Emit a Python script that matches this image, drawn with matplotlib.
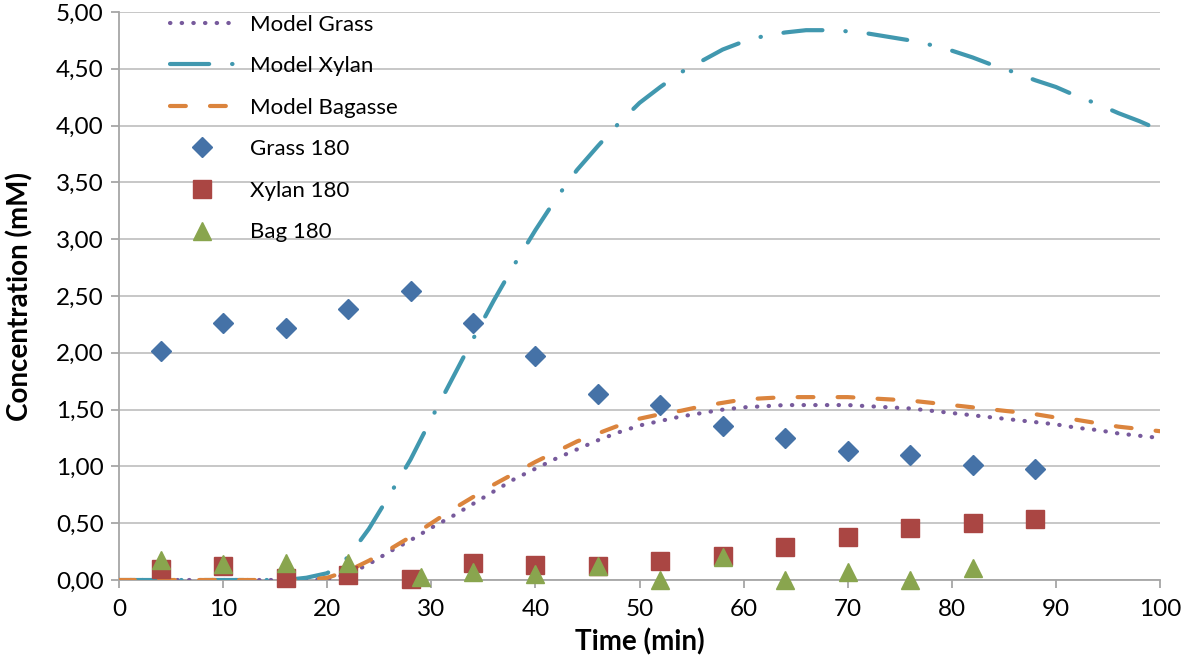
import matplotlib
matplotlib.use("Agg")
import matplotlib.pyplot as plt
from matplotlib.ticker import FuncFormatter, MultipleLocator

plt.rcParams['font.family'] = ['Lato', 'DejaVu Sans']

# measured points (180)
t_meas = [4, 10, 16, 22, 28, 34, 40, 46, 52, 58, 64, 70, 76, 82, 88]
grass_180 = [2.02, 2.26, 2.22, 2.39, 2.54, 2.26, 1.97, 1.64, 1.54, 1.36, 1.25, 1.14, 1.10, 1.01, 0.98]
xylan_180 = [0.10, 0.12, 0.02, 0.04, 0.01, 0.15, 0.13, 0.12, 0.17, 0.21, 0.29, 0.38, 0.46, 0.50, 0.54]
t_bag = [4, 10, 16, 22, 29, 34, 40, 46, 52, 58, 64, 70, 76, 82]
bag_180 = [0.18, 0.14, 0.15, 0.15, 0.03, 0.07, 0.05, 0.12, 0.00, 0.20, 0.00, 0.07, 0.00, 0.11]

# model curves
t_model = [0, 2, 4, 6, 8, 10, 12, 14, 16, 18, 20, 22, 24, 26, 28, 30, 32, 34, 36, 38, 40,
           42, 44, 46, 48, 50, 52, 54, 56, 58, 60, 62, 64, 66, 68, 70, 72, 74, 76, 78, 80,
           82, 84, 86, 88, 90, 92, 94, 96, 98, 100]
model_grass = [0, 0, 0, 0, 0, 0, 0, 0, 0, 0.0, 0.01, 0.05, 0.14, 0.25, 0.35, 0.46, 0.56, 0.67, 0.78, 0.89, 0.98,
               1.07, 1.15, 1.23, 1.30, 1.36, 1.40, 1.44, 1.47, 1.50, 1.52, 1.53, 1.54, 1.54, 1.54, 1.54, 1.53, 1.52, 1.51, 1.49, 1.47,
               1.45, 1.43, 1.41, 1.39, 1.37, 1.34, 1.32, 1.29, 1.27, 1.25]
model_xylan = [0, 0, 0, 0, 0, 0, 0, 0, 0.0, 0.02, 0.06, 0.20, 0.45, 0.75, 1.06, 1.42, 1.77, 2.12, 2.46, 2.78, 3.08,
               3.36, 3.61, 3.82, 4.02, 4.20, 4.34, 4.47, 4.57, 4.67, 4.74, 4.79, 4.82, 4.84, 4.84, 4.83, 4.81, 4.78, 4.75, 4.71, 4.66,
               4.60, 4.53, 4.47, 4.40, 4.34, 4.26, 4.19, 4.11, 4.04, 3.96]
model_bagasse = [0, 0, 0, 0, 0, 0, 0, 0, 0, 0.0, 0.02, 0.08, 0.17, 0.27, 0.38, 0.50, 0.62, 0.73, 0.84, 0.94, 1.04,
                 1.13, 1.22, 1.29, 1.36, 1.42, 1.46, 1.49, 1.53, 1.56, 1.59, 1.60, 1.61, 1.61, 1.61, 1.61, 1.60, 1.59, 1.58, 1.56, 1.54,
                 1.52, 1.50, 1.48, 1.46, 1.43, 1.41, 1.38, 1.35, 1.33, 1.31]

fig = plt.figure(figsize=(11.81, 6.6), dpi=100)
ax = fig.add_axes([0.1008, 0.1212, 0.8814, 0.8606])

lw = 3.0
ax.plot(t_model, model_grass, color='#775A9C', lw=lw, dashes=(0.1, 2.7),
        dash_capstyle='round', label='Model Grass', zorder=3)
ax.plot(t_model, model_xylan, color='#4198AF', lw=lw, dashes=(9.4, 5.5, 0.1, 5.5),
        dash_capstyle='round', label='Model Xylan', zorder=3)
ax.plot(t_model, model_bagasse, color='#DB843D', lw=lw, dashes=(3.8, 5.8),
        dash_capstyle='round', label='Model Bagasse', zorder=3)

ax.plot(t_meas, grass_180, 'D', color='#4572A7', ms=10.5, mec='#4572A7', ls='none',
        label='Grass 180', clip_on=False, zorder=4)
ax.plot(t_meas, xylan_180, 's', color='#AA4643', ms=13, mec='#AA4643', ls='none',
        label='Xylan 180', clip_on=False, zorder=4)
ax.plot(t_bag, bag_180, '^', color='#89A54E', ms=13, mec='#89A54E', ls='none',
        label='Bag 180', clip_on=False, zorder=5)

ax.set_xlim(0, 100)
ax.set_ylim(0, 5)
ax.xaxis.set_major_locator(MultipleLocator(10))
ax.yaxis.set_major_locator(MultipleLocator(0.5))
ax.yaxis.set_major_formatter(FuncFormatter(lambda v, p: ('%.2f' % v).replace('.', ',')))

ax.grid(axis='y', color='#BEBEBE', lw=1.2)
ax.set_axisbelow(True)
for s in ['top', 'right']:
    ax.spines[s].set_visible(False)
for s in ['left', 'bottom']:
    ax.spines[s].set_color('#A6A6A6')
    ax.spines[s].set_linewidth(1.3)
ax.tick_params(axis='both', colors='#A6A6A6', length=6, width=1.3, labelsize=17.5, labelcolor='black')
ax.tick_params(axis='x', pad=8)
ax.tick_params(axis='y', pad=5)

ax.set_xlabel('Time (min)', fontsize=20, fontweight='bold', labelpad=6)
ax.set_ylabel('Concentration (mM)', fontsize=20, fontweight='bold', labelpad=16)

leg = ax.legend(loc='upper left', bbox_to_anchor=(0.038, 1.015), frameon=False, fontsize=16,
                handlelength=2.9, handletextpad=0.7, labelspacing=0.97, borderpad=0)

fig.savefig('out.png', dpi=100)
